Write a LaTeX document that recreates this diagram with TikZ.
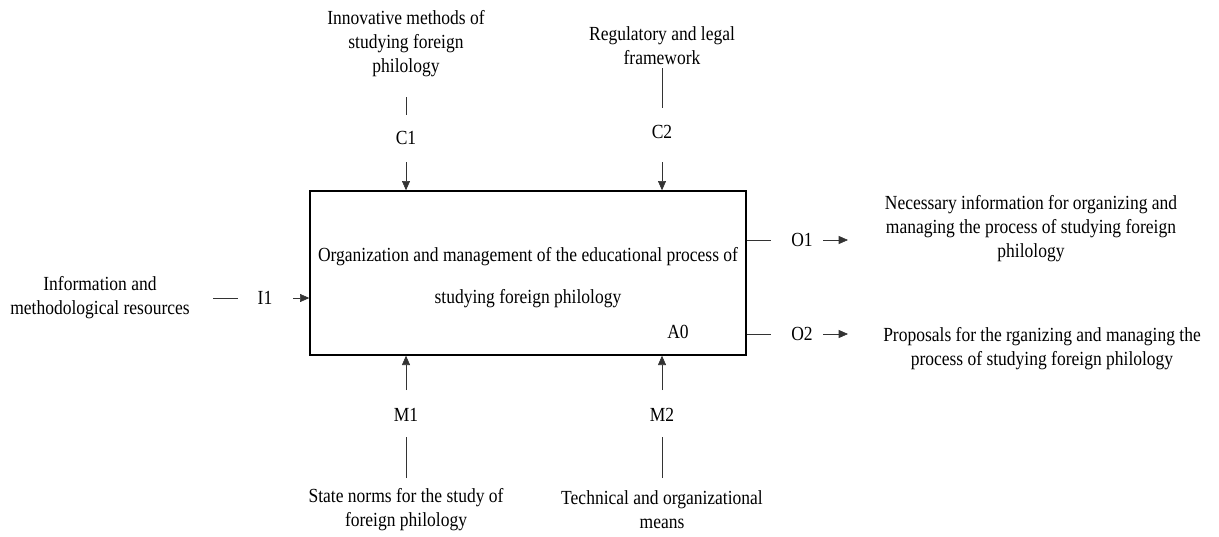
\documentclass[tikz,border=0pt]{standalone}
\usepackage{fontspec}
\setmainfont{Liberation Serif}[FakeStretch=0.875]
\usetikzlibrary{arrows.meta}
\begin{document}
\begin{tikzpicture}[x=0.75pt,y=-0.75pt,
  lbl/.style={inner sep=0pt,font=\fontsize{15}{18}\selectfont,align=center},
  conn/.style={line width=0.5pt,draw=black!80},
  arr/.style={conn,-{Triangle[length=7pt,width=6pt]}}]
\useasboundingbox (0,0) rectangle (1219,536);
% main box
\node[draw,line width=1pt,minimum width=327pt,minimum height=123pt,inner sep=0pt] (A0box) at (528,273) {};
\node[lbl,font=\fontsize{15}{31}\selectfont] (title) at (528,277.5) {Organization and management of the educational process of\\studying foreign philology};
\node[lbl] (a0) at (678,332) {A0};
% controls
\node[lbl] (c1txt) at (406,44) {Innovative methods of\\studying foreign\\philology};
\node[lbl] (c1lab) at (406,138) {C1};
\node[lbl] (c2txt) at (662,45.5) {Regulatory and legal\\framework};
\node[lbl] (c2lab) at (662,132) {C2};
% input
\node[lbl] (i1txt) at (100,298) {Information and\\methodological resources};
\node[lbl] (i1lab) at (265,298) {I1};
% outputs
\node[lbl] (o1lab) at (802,240) {O1};
\node[lbl] (o1txt) at (1031,228.5) {Necessary information for organizing and\\managing the process of studying foreign\\philology};
\node[lbl] (o2lab) at (802,334) {O2};
\node[lbl] (o2txt) at (1042,348.5) {Proposals for the rganizing and managing the\\process of studying foreign philology};
% mechanisms
\node[lbl] (m1lab) at (406,415) {M1};
\node[lbl] (m1txt) at (406,509.5) {State norms for the study of\\foreign philology};
\node[lbl] (m2lab) at (662,415) {M2};
\node[lbl] (m2txt) at (662,509.5) {Technical and organizational\\means};
% connectors
\draw[conn,shorten <=39.75pt,shorten >=17.25pt] (c1txt.center) -- (c1lab.center);
\draw[arr,shorten <=18pt] (c1lab.center) -- (c1lab.center |- A0box.north);
\draw[conn,shorten <=16.875pt,shorten >=18pt] (c2txt.center) -- (c2lab.center);
\draw[arr,shorten <=22.5pt] (c2lab.center) -- (c2lab.center |- A0box.north);
\draw[conn,shorten <=84.75pt,shorten >=20.25pt] (i1txt.center) -- (i1lab.center);
\draw[arr,shorten <=21pt] (i1lab.center) -- (i1lab.center -| A0box.west);
\draw[conn,shorten >=23.25pt] (o1lab.center -| A0box.east) -- (o1lab.center);
\draw[arr,shorten <=15.75pt,shorten >=137.25pt] (o1lab.center) -- (o1lab.center -| o1txt.center);
\draw[conn,shorten >=23.25pt] (o2lab.center -| A0box.east) -- (o2lab.center);
\draw[arr,shorten <=15.75pt,shorten >=145.5pt] (o2lab.center) -- (o2lab.center -| o2txt.center);
\draw[conn,shorten <=23.625pt,shorten >=16.5pt] (m1txt.center) -- (m1lab.center);
\draw[arr,shorten <=18.75pt] (m1lab.center) -- (m1lab.center |- A0box.south);
\draw[conn,shorten <=23.625pt,shorten >=16.5pt] (m2txt.center) -- (m2lab.center);
\draw[arr,shorten <=18.75pt] (m2lab.center) -- (m2lab.center |- A0box.south);
\end{tikzpicture}
\end{document}
